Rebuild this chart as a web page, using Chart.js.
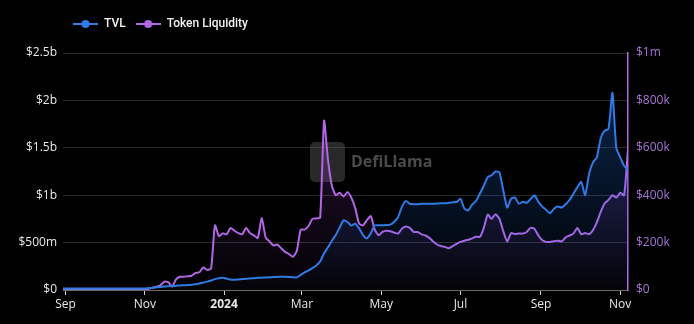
<!DOCTYPE html>
<html>
<head>
<meta charset="utf-8">
<script src="https://cdn.jsdelivr.net/npm/chart.js@4.4.1/dist/chart.umd.min.js"></script>
<style>
  html, body { margin: 0; padding: 0; background: #000; }
  #wrap { width: 694px; height: 324px; position: relative; }
</style>
</head>
<body>
<div id="wrap"><canvas id="chart"></canvas></div>
<script>
// 数据：每 3 天一个点，从 2023-08-30 开始（day 0 = 2023-09-01）
const startDay = -2;
const stepDays = 3;

// TVL，单位 $m
const tvl = [
  15, 15, 15, 15, 15, 15, 15, 15, 15, 15,
  15, 15, 15, 15, 15, 15, 15, 15, 15, 15,
  16, 17, 20, 22, 28, 32, 36, 40, 42, 45,
  48, 50, 52, 55, 60, 68, 78, 88, 100, 115,
  125, 128, 120, 110, 108, 112, 115, 118, 122, 125,
  128, 130, 132, 134, 136, 138, 140, 140, 138, 135,
  133, 160, 185, 205, 230, 258, 300, 388, 450, 520,
  580, 660, 735, 717, 680, 700, 650, 580, 545, 600,
  682, 682, 682, 685, 690, 720, 770, 880, 940, 910,
  905, 905, 910, 910, 910, 910, 912, 915, 915, 920,
  925, 928, 963, 860, 840, 900, 940, 1018, 1100, 1190,
  1210, 1250, 1240, 1050, 870, 963, 975, 910, 930, 920,
  960, 1000, 930, 880, 845, 810, 858, 880, 870, 905,
  950, 1015, 1085, 1140, 1000, 1225, 1347, 1400, 1600, 1680,
  1700, 2080, 1500, 1400, 1310, 1270
];

// Token Liquidity，单位 $k
const liquidity = [
  1, 1, 1, 1, 1, 1, 1, 1, 1, 1,
  1, 1, 1, 1, 1, 1, 1, 1, 1, 1,
  1, 2, 5, 10, 14, 20, 35, 33, 14, 45,
  56, 56, 58, 60, 72, 75, 95, 85, 90, 273,
  228, 239, 235, 262, 250, 240, 235, 262, 240, 230,
  220, 305, 222, 205, 188, 192, 176, 161, 152, 140,
  165, 255, 255, 270, 300, 302, 305, 714, 550, 440,
  400, 410, 395, 413, 390, 345, 280, 273, 295, 312,
  255, 231, 245, 250, 248, 242, 238, 259, 268, 262,
  245, 245, 235, 230, 220, 205, 192, 185, 182, 176,
  185, 195, 203, 208, 212, 218, 225, 224, 262, 318,
  300, 320, 300, 248, 205, 240, 236, 238, 238, 245,
  262, 258, 230, 210, 203, 203, 206, 208, 205, 222,
  230, 238, 262, 235, 240, 235, 252, 285, 330, 365,
  380, 400, 390, 410, 400, 595
];

// x 轴刻度（距 2023-09-01 的天数）和标签
const monthTicks = [0, 61, 122, 182, 243, 304, 366, 427];
const monthLabels = ['Sep', 'Nov', '2024', 'Mar', 'May', 'Jul', 'Sep', 'Nov'];

const colors = {
    tvl: '#2f7ae5',
    liquidity: '#b266e6',
    grid: '#2a2a2a',
    text: '#e8e8e8',
    rightText: '#a673d6'
};

// 图例标记：短线 + 圆点
function legendMarker(color) {
    const c = document.createElement('canvas');
    c.width = 25;
    c.height = 10;
    const g = c.getContext('2d');
    g.strokeStyle = color;
    g.lineWidth = 2;
    g.beginPath();
    g.moveTo(0, 5);
    g.lineTo(25, 5);
    g.stroke();
    g.fillStyle = color;
    g.beginPath();
    g.arc(12.5, 5, 4, 0, Math.PI * 2);
    g.fill();
    return c;
}

function areaGradient(ctx, r, g, b, a) {
    const area = ctx.chart.chartArea;
    if (!area) return 'rgba(0,0,0,0)';
    const grad = ctx.chart.ctx.createLinearGradient(0, area.top, 0, area.bottom);
    grad.addColorStop(0, `rgba(${r},${g},${b},${a})`);
    grad.addColorStop(1, `rgba(${r},${g},${b},0.02)`);
    return grad;
}

// 图例下方留出空间
const legendSpacing = {
    id: 'legendSpacing',
    beforeInit(chart) {
        const fit = chart.legend.fit;
        chart.legend.fit = function () {
            fit.bind(chart.legend)();
            this.height += 13;
        };
    }
};

// 水印
const watermark = {
    id: 'watermark',
    beforeDatasetsDraw(chart) {
        const g = chart.ctx;
        g.save();
        g.fillStyle = 'rgba(90,90,90,0.45)';
        g.beginPath();
        g.roundRect(310, 142, 35, 40, 5);
        g.fill();
        g.fillStyle = 'rgba(40,40,40,0.8)';
        g.beginPath();
        g.arc(327, 162, 11, 0, Math.PI * 2);
        g.fill();
        g.fillStyle = '#4b4b4b';
        g.font = 'bold 16px "Open Sans"';
        g.textBaseline = 'middle';
        g.fillText('DefiLlama', 351, 162);
        g.restore();
    }
};

const ctx = document.getElementById('chart');
new Chart(ctx, {
    type: 'line',
    data: {
        datasets: [
            {
                label: 'TVL',
                data: tvl.map((v, i) => ({ x: startDay + i * stepDays, y: v })),
                borderColor: colors.tvl,
                backgroundColor: (c) => areaGradient(c, 33, 110, 225, 0.38),
                fill: 'origin',
                borderWidth: 2,
                pointRadius: 0,
                tension: 0.2,
                yAxisID: 'y',
                pointStyle: legendMarker(colors.tvl)
            },
            {
                label: 'Token Liquidity',
                data: liquidity.map((v, i) => ({ x: startDay + i * stepDays, y: v })),
                borderColor: colors.liquidity,
                backgroundColor: (c) => areaGradient(c, 150, 70, 200, 0.32),
                fill: 'origin',
                borderWidth: 2,
                pointRadius: 0,
                tension: 0.2,
                yAxisID: 'y1',
                pointStyle: legendMarker(colors.liquidity)
            }
        ]
    },
    options: {
        responsive: true,
        maintainAspectRatio: false,
        animation: false,
        layout: {
            padding: { top: 8, left: 0, right: 0, bottom: 0 }
        },
        plugins: {
            legend: {
                position: 'top',
                align: 'start',
                fullSize: false,
                labels: {
                    usePointStyle: true,
                    pointStyleWidth: 25,
                    color: '#f2f2f2',
                    padding: 10,
                    font: { family: 'Roboto', size: 12, weight: '500' }
                }
            },
            tooltip: { enabled: false }
        },
        scales: {
            x: {
                type: 'linear',
                min: -2,
                max: 433,
                afterBuildTicks: (scale) => {
                    scale.ticks = monthTicks.map(v => ({ value: v }));
                },
                afterFit: (scale) => { scale.height = 34; },
                ticks: {
                    color: colors.text,
                    padding: 2,
                    maxRotation: 0,
                    autoSkip: false,
                    font: (c) => ({
                        family: 'Open Sans',
                        size: 12,
                        weight: c.index === 2 ? 'bold' : 'normal'
                    }),
                    callback: (value, index) => monthLabels[index]
                },
                grid: {
                    drawOnChartArea: false,
                    drawTicks: true,
                    tickLength: 5,
                    color: '#d0d0d0'
                },
                border: { display: true, color: '#6a6a6a' }
            },
            y: {
                position: 'left',
                min: 0,
                max: 2500,
                afterFit: (scale) => { scale.width = 63; },
                ticks: {
                    stepSize: 500,
                    color: colors.text,
                    padding: 6,
                    font: { family: 'Open Sans', size: 12 },
                    callback: (v) => v === 0 ? '$0' : (v >= 1000 ? '$' + (v / 1000) + 'b' : '$' + v + 'm')
                },
                grid: { color: colors.grid, drawTicks: false },
                border: { display: false }
            },
            y1: {
                position: 'right',
                min: 0,
                max: 1000,
                afterFit: (scale) => { scale.width = 66; },
                ticks: {
                    stepSize: 200,
                    color: colors.rightText,
                    padding: 8,
                    font: { family: 'Open Sans', size: 12 },
                    callback: (v) => v === 0 ? '$0' : (v >= 1000 ? '$' + (v / 1000) + 'm' : '$' + v + 'k')
                },
                grid: { drawOnChartArea: false, drawTicks: false },
                border: { display: true, color: colors.liquidity, width: 1.5 }
            }
        }
    },
    plugins: [legendSpacing, watermark]
});
</script>
</body>
</html>
